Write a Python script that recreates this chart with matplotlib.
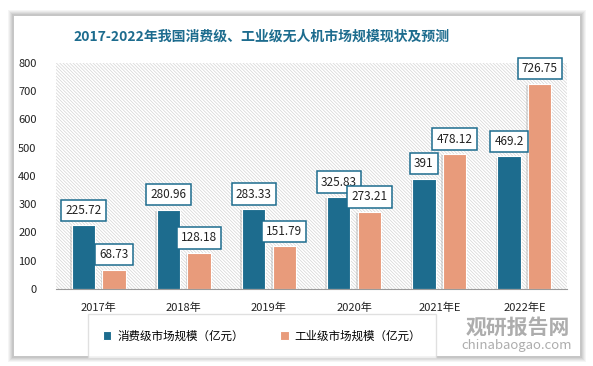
import matplotlib.pyplot as plt
import matplotlib.patheffects as pe
from matplotlib.patches import Rectangle
import numpy as np

plt.rcParams['font.family'] = ['Noto Sans CJK SC', 'DejaVu Sans']
plt.rcParams['hatch.linewidth'] = 0.5

years = ["2017年", "2018年", "2019年", "2020年", "2021年E", "2022年E"]
consumer = [225.72, 280.96, 283.33, 325.83, 391, 469.2]
industrial = [68.73, 128.18, 151.79, 273.21, 478.12, 726.75]
consumer_lbl = ["225.72", "280.96", "283.33", "325.83", "391", "469.2"]
industrial_lbl = ["68.73", "128.18", "151.79", "273.21", "478.12", "726.75"]

blue = "#1D6C8E"
orange = "#E89B7B"
W, H = 593, 366

fig = plt.figure(figsize=(W / 100, H / 100), dpi=100)
fig.patch.set_facecolor("white")

# card with soft shadow
for i, a in enumerate([0.04, 0.04, 0.05, 0.05, 0.06]):
    g = 6 - i
    fig.patches.append(Rectangle(((14 - g) / W, (H - 356 - g) / H), (566 + 2 * g) / W, (340 + 2 * g) / H,
                                 transform=fig.transFigure, fc="black", ec="none", alpha=a, zorder=0))
fig.patches.append(Rectangle((14 / W, (H - 356) / H), 566 / W, 340 / H,
                             transform=fig.transFigure, fc="white", ec="none", zorder=1))

ax = fig.add_axes([56 / W, (H - 289) / H, (567 - 56) / W, (289 - 63) / H])
ax.set_zorder(2)
ax.patch.set_alpha(0)
ax.add_patch(Rectangle((0, 0), 1, 1, transform=ax.transAxes, fc="white", ec="#d4d4d4",
                       lw=0, hatch="\\" * 10, zorder=0))

x = np.arange(len(years))
bw, off = 0.275, 0.18
shadow = [pe.SimplePatchShadow(offset=(-1.2, -0.8), shadow_rgbFace="#999999", alpha=0.3), pe.Normal()]
b1 = ax.bar(x - off, consumer, bw, color=blue, edgecolor="white", lw=0.8, zorder=3,
            label="消费级市场规模（亿元）")
b2 = ax.bar(x + off, industrial, bw, color=orange, edgecolor="white", lw=0.8, zorder=3,
            label="工业级市场规模（亿元）")
for b in list(b1) + list(b2):
    b.set_path_effects(shadow)

for xi, v, t in zip(x - off, consumer, consumer_lbl):
    ax.annotate(t, (xi, v), xytext=(0, 6), textcoords="offset points", ha="center", va="bottom",
                fontsize=8.5, color="#222222", zorder=5,
                bbox=dict(boxstyle="square,pad=0.35", fc="white", ec=blue, lw=1.1))
for xi, v, t in zip(x + off, industrial, industrial_lbl):
    ax.annotate(t, (xi, v), xytext=(0, 6), textcoords="offset points", ha="center", va="bottom",
                fontsize=8.5, color="#222222", zorder=5,
                bbox=dict(boxstyle="square,pad=0.35", fc="white", ec=blue, lw=1.1))

ax.set_xlim(-0.5, 5.5)
ax.set_ylim(0, 800)
ax.set_yticks(range(0, 801, 100))
ax.set_xticks(x)
ax.set_xticklabels(years)
ax.tick_params(axis="both", length=0, labelsize=8, colors="#222222")
ax.tick_params(axis="x", pad=10)
ax.tick_params(axis="y", pad=14)
for s in ["top", "right", "left"]:
    ax.spines[s].set_visible(False)
ax.spines["bottom"].set_color("#9a9a9a")
ax.spines["bottom"].set_zorder(4)

fig.text(262 / W, 1 - 37 / H, "2017-2022年我国消费级、工业级无人机市场规模现状及预测",
         ha="center", va="center", fontsize=10, fontweight="bold", color=blue, zorder=3)

leg = fig.legend(handles=[b1, b2], loc="center", bbox_to_anchor=(262 / W, 1 - 336 / H), ncol=2,
                 fontsize=8.3, frameon=True, fancybox=False, edgecolor="#d9d9d9",
                 handlelength=0.7, handleheight=0.7, handletextpad=0.5, columnspacing=3.2,
                 borderpad=0.45, borderaxespad=0)
leg.get_frame().set_boxstyle("square", pad=0.9)
leg.set_zorder(6)
for h in leg.legend_handles:
    h.set_path_effects([])

# watermark
fig.text(518 / W, 1 - 327 / H, "观研报告网", ha="center", va="center", fontsize=15,
         fontweight="bold", color="#8a8a8a", alpha=0.7, zorder=7)
fig.text(517 / W, 1 - 345 / H, "chinabaogao.com", ha="center", va="center", fontsize=9.5,
         color="#8a8a8a", alpha=0.7, zorder=7)

fig.savefig("out.png", dpi=100)
